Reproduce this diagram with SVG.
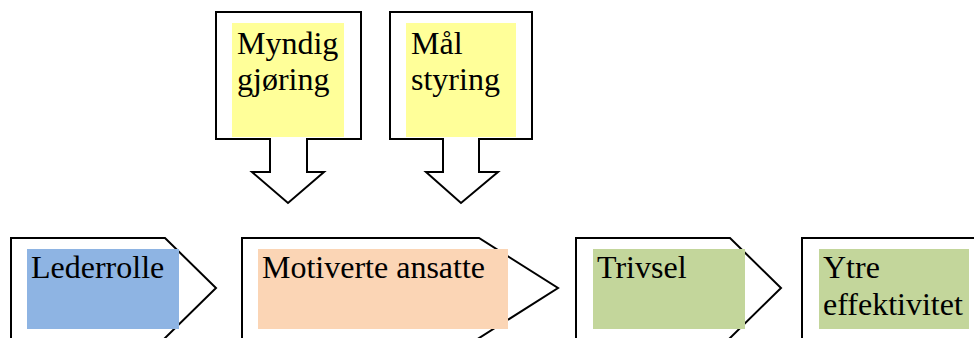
<svg xmlns="http://www.w3.org/2000/svg" width="974" height="338" viewBox="0 0 974 338">
<style>
.sh{fill:#fff;stroke:#000;stroke-width:2;stroke-linejoin:miter}
.t{font-family:"Liberation Serif","Times New Roman",serif;font-size:32px;fill:#000}
</style>
<rect width="974" height="338" fill="#fff"/>
<g id="myndiggjoring">
<path class="sh" d="M216,12 H361 V139 H307 V172 H324 L288,203 L252,172 H270 V139 H216 Z"/>
<rect x="232" y="23" width="112" height="114" fill="#ffff99"/>
<text class="t" x="237" y="54">Myndig</text>
<text class="t" x="237" y="90">gjøring</text>
</g>
<g id="malstyring">
<path class="sh" d="M390,12 H532 V139 H479 V172 H498 L461,203 L426,172 H443 V139 H390 Z"/>
<rect x="406" y="23" width="110" height="114" fill="#ffff99"/>
<text class="t" x="411" y="54">Mål</text>
<text class="t" x="411" y="90">styring</text>
</g>
<g id="lederrolle">
<path class="sh" d="M11,340 V238 H165 L216,288 L163,340"/>
<rect x="27" y="249" width="152" height="80" fill="#8eb4e3"/>
<text class="t" x="31" y="278">Lederrolle</text>
</g>
<g id="motiverte">
<path class="sh" d="M242,340 V238 H479 L558,288 L476,340"/>
<rect x="258" y="249" width="250" height="80" fill="#fbd5b5"/>
<text class="t" x="262" y="278">Motiverte ansatte</text>
</g>
<g id="trivsel">
<path class="sh" d="M576,340 V238 H730 L781,288 L728,340"/>
<rect x="593" y="249" width="152" height="80" fill="#c3d69b"/>
<text class="t" x="597" y="278">Trivsel</text>
</g>
<g id="ytre">
<path class="sh" d="M802,340 V238 H990"/>
<rect x="819" y="249" width="150" height="80" fill="#c3d69b"/>
<text class="t" x="823" y="278">Ytre</text>
<text class="t" x="823" y="315">effektivitet</text>
</g>
<g id="connectors"></g>
</svg>
